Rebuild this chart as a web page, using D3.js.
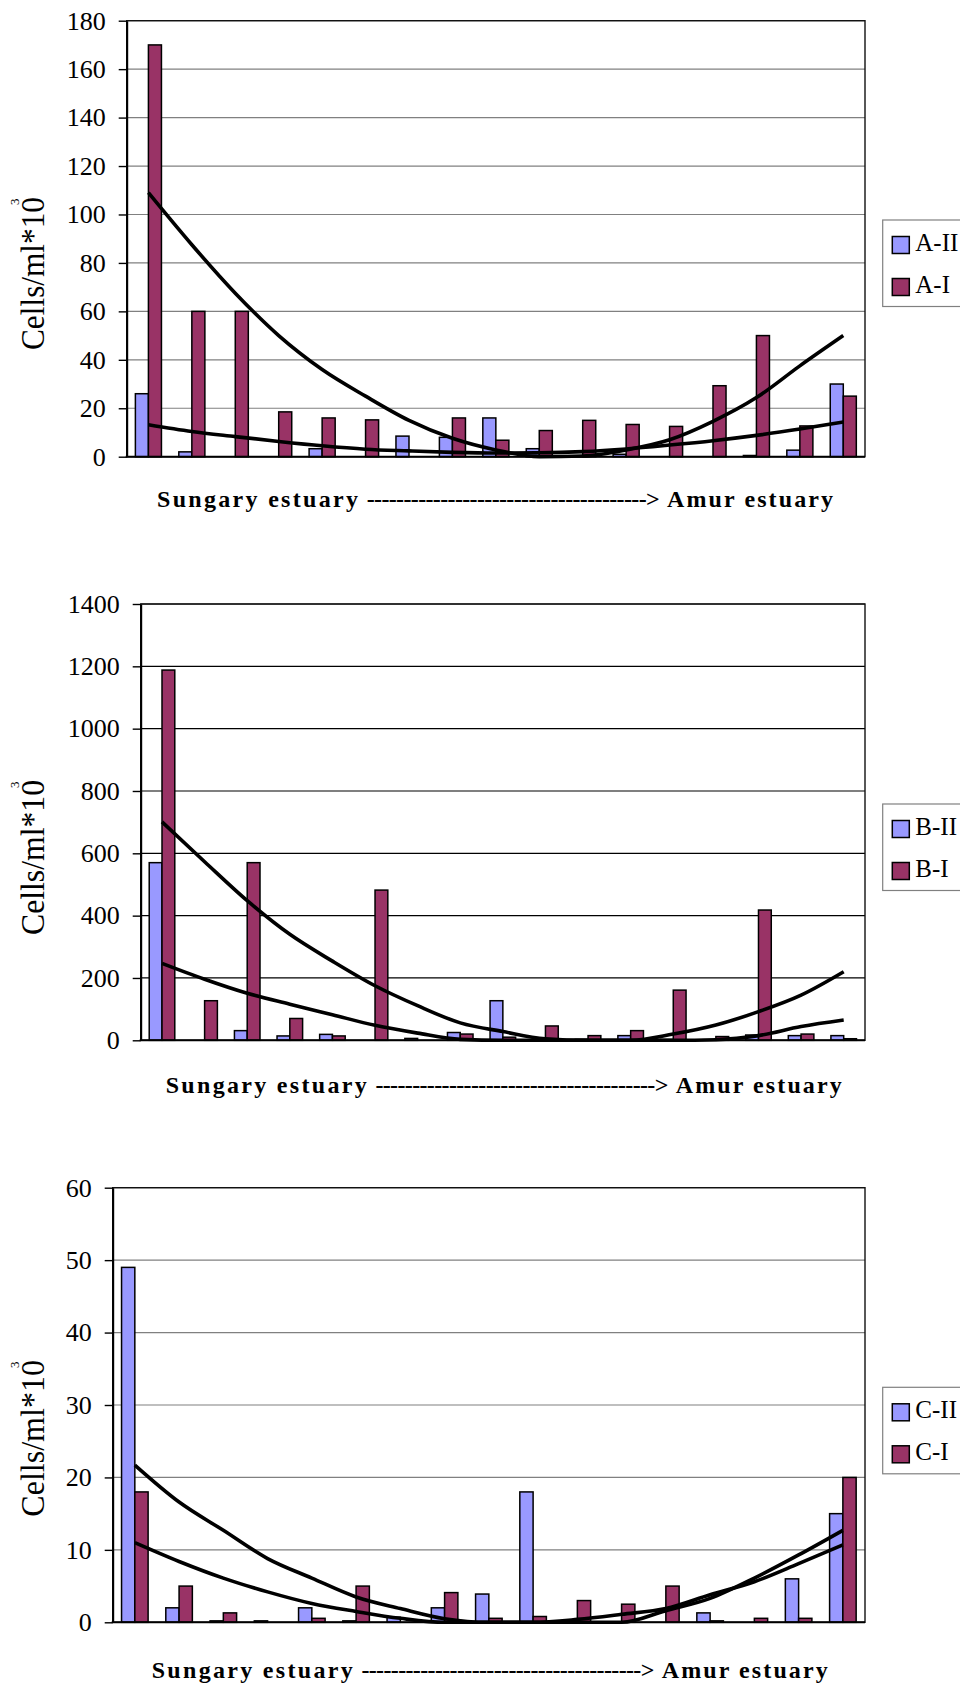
<!DOCTYPE html>
<html>
<head>
<meta charset="utf-8">
<script src="https://cdn.jsdelivr.net/npm/d3@7/dist/d3.min.js"></script>
<style>
    body { margin: 0; background: #fff; }
</style>
</head>
<body>
<svg id="chart" width="960" height="1684"></svg>
<script>
// stations along the river, Sungary estuary -> Amur estuary
var stations = ['1', '2', '3', '4', '5', '6', '7', '8', '9', '10', '11', '12', '13', '14', '15', '16', '17'];

// panel A
var aTwo = [26, 2, 0, 0, 3.3, 0, 8.5, 8, 16, 3.3, 0, 1, 0, 0, 0.5, 2.7, 30];
var aOne = [170, 60, 60, 18.5, 16, 15.2, 0, 16, 6.8, 10.8, 15, 13.3, 12.5, 29.3, 50, 12.7, 25];
var aTwoTrend = [13.2, 10.4, 8.3, 6.3, 4.5, 3.1, 2.4, 1.8, 1.5, 1.6, 2.1, 3.2, 4.8, 6.6, 8.8, 11.4, 14.3];
var aOneTrend = [109, 87.5, 67.5, 50, 36, 25, 15, 7.6, 2.8, 0, 0.3, 2.8, 7, 14.6, 24.4, 37.5, 50];
var aTicks = [0, 20, 40, 60, 80, 100, 120, 140, 160, 180];

// panel B
var bTwo = [570, 0, 31, 14, 19, 0, 6, 25, 127, 2, 3, 15, 3, 2, 17, 15, 15];
var bOne = [1188, 127, 570, 70, 14, 482, 0, 20, 10, 46, 15, 31, 161, 12, 418, 20, 5];
var bTwoTrend = [247, 196, 151, 116, 82, 48, 23, 3, 0, 0, 0, 0, 0, 2, 15, 44, 65];
var bOneTrend = [701, 573, 448, 340, 254, 175, 111, 56, 28, 5, 0, 0, 20, 49, 92, 145, 220];
var bTicks = [0, 200, 400, 600, 800, 1000, 1200, 1400];

// panel C
var cTwo = [49, 2, 0.2, 0.2, 2, 0.2, 0.7, 2, 3.9, 18, 0, 0, 0, 1.3, 0, 6, 15];
var cOne = [18, 5, 1.3, 0, 0.55, 5, 0, 4.1, 0.55, 0.8, 3, 2.5, 5, 0.2, 0.55, 0.55, 20];
var cTwoTrend = [21.7, 16.6, 12.7, 8.8, 6.1, 3.5, 1.9, 0.5, 0, 0, 0, 0, 1.6, 3.3, 6.1, 9.3, 12.7];
var cOneTrend = [11, 8.4, 6.1, 4.2, 2.6, 1.5, 0.55, 0, 0, 0, 0.4, 1.1, 1.9, 3.8, 5.6, 8.1, 10.7];
var cTicks = [0, 10, 20, 30, 40, 50, 60];

var seriesKeys = ['II', 'I'];
var seriesColors = { II: '#9999ff', I: '#993366' };
var serif = 'Liberation Serif';

var panels = [
    { name: 'A', two: aTwo, one: aOne, twoTrend: aTwoTrend, oneTrend: aOneTrend, ticks: aTicks,
      left: 126.7, right: 865, top: 20.7, bottom: 456.7, grid: '#808080',
      legendTop: 220, titleX: 157, titleY: 507, yTitleStart: 350, yTitleEnd: 197 },
    { name: 'B', two: bTwo, one: bOne, twoTrend: bTwoTrend, oneTrend: bOneTrend, ticks: bTicks,
      left: 140.7, right: 865, top: 604, bottom: 1040.3, grid: '#000',
      legendTop: 804, titleX: 165.7, titleY: 1093, yTitleStart: 935, yTitleEnd: 780 },
    { name: 'C', two: cTwo, one: cOne, twoTrend: cTwoTrend, oneTrend: cOneTrend, ticks: cTicks,
      left: 112.7, right: 865, top: 1187.7, bottom: 1622.3, grid: '#808080',
      legendTop: 1387.3, titleX: 151.7, titleY: 1678, yTitleStart: 1516.7, yTitleEnd: 1360 }
];

var svg = d3.select('#chart');

panels.forEach(function (p) {
    drawPanel(svg.append('g').attr('class', 'panel-' + p.name), p);
});

function drawPanel(g, p) {
    var yMax = p.ticks[p.ticks.length - 1],
        y = d3.scaleLinear().domain([0, yMax]).range([p.bottom, p.top]),
        x0 = d3.scaleBand().domain(stations).range([p.left, p.right]),
        bw = x0.bandwidth(),
        x1 = d3.scaleBand().domain(seriesKeys).range([bw * 0.2, bw * 0.8]),
        rows = stations.map(function (s, i) {
            return { station: s, II: p.two[i], I: p.one[i] };
        });

    // gridlines
    g.append('g').selectAll('line')
        .data(p.ticks.filter(function (t) { return t > 0; }))
        .enter().append('line')
        .attr('x1', p.left).attr('x2', p.right)
        .attr('y1', function (d) { return y(d); })
        .attr('y2', function (d) { return y(d); })
        .attr('stroke', p.grid)
        .attr('stroke-width', 1.2);

    // bars
    g.append('g').selectAll('g')
        .data(rows)
        .enter().append('g')
        .attr('transform', function (d) { return 'translate(' + x0(d.station) + ',0)'; })
        .selectAll('rect')
        .data(function (d) {
            return seriesKeys.map(function (k) { return { key: k, value: d[k] }; });
        })
        .enter().append('rect')
        .filter(function (d) { return d.value > 0; })
        .attr('x', function (d) { return x1(d.key); })
        .attr('width', x1.bandwidth())
        .attr('y', function (d) { return y(d.value); })
        .attr('height', function (d) { return p.bottom - y(d.value); })
        .attr('fill', function (d) { return seriesColors[d.key]; })
        .attr('stroke', '#000')
        .attr('stroke-width', 1.5);

    // frame (top / right)
    g.append('rect')
        .attr('x', p.left).attr('y', p.top)
        .attr('width', p.right - p.left).attr('height', p.bottom - p.top)
        .attr('fill', 'none')
        .attr('stroke', '#111')
        .attr('stroke-width', 1.4);

    // polynomial trendlines as drawn in the source
    var trendLine = d3.line()
        .x(function (d, i) { return x0(stations[i]) + bw / 2; })
        .y(function (d) { return y(d); })
        .curve(d3.curveMonotoneX);

    [p.twoTrend, p.oneTrend].forEach(function (t) {
        g.append('path')
            .datum(t)
            .attr('d', trendLine)
            .attr('fill', 'none')
            .attr('stroke', '#000')
            .attr('stroke-width', 3.6)
            .attr('stroke-linejoin', 'round');
    });

    // y axis
    var yAxis = d3.axisLeft(y)
        .tickValues(p.ticks)
        .tickFormat(d3.format('d'))
        .tickSize(8)
        .tickSizeOuter(0)
        .tickPadding(13);

    var axisG = g.append('g')
        .attr('transform', 'translate(' + p.left + ',0)')
        .call(yAxis)
        .attr('font-family', serif)
        .attr('font-size', 26);
    axisG.select('.domain').attr('stroke', '#000').attr('stroke-width', 2);
    axisG.selectAll('.tick line').attr('stroke', '#000').attr('stroke-width', 1.4);
    axisG.selectAll('.tick text')
        .attr('font-size', 26)
        .attr('font-family', serif)
        .attr('fill', '#000');

    // x axis baseline
    g.append('line')
        .attr('x1', p.left - 1).attr('x2', p.right)
        .attr('y1', p.bottom).attr('y2', p.bottom)
        .attr('stroke', '#000')
        .attr('stroke-width', 2);

    // y title
    g.append('text')
        .attr('transform', 'translate(44,' + p.yTitleStart + ') rotate(-90)')
        .attr('font-family', serif)
        .attr('font-size', 33)
        .attr('textLength', p.yTitleStart - p.yTitleEnd)
        .attr('lengthAdjust', 'spacingAndGlyphs')
        .text('Cells/ml*10');
    g.append('text')
        .attr('transform', 'translate(19,' + (p.yTitleEnd + 8) + ') rotate(-90)')
        .attr('font-family', serif)
        .attr('font-size', 13)
        .text('3');

    // x title
    var titleParts = [
        { text: 'Sungary estuary', dx: 0, len: 201 },
        { text: '-------------------------------------->', dx: 209.7, len: 293 },
        { text: 'Amur estuary', dx: 510, len: 166 }
    ];
    g.append('g').selectAll('text')
        .data(titleParts)
        .enter().append('text')
        .attr('x', function (d) { return p.titleX + d.dx; })
        .attr('y', p.titleY)
        .attr('font-family', serif)
        .attr('font-size', 24)
        .attr('font-weight', 'bold')
        .attr('textLength', function (d) { return d.len; })
        .attr('lengthAdjust', 'spacing')
        .text(function (d) { return d.text; });

    // legend
    var legend = g.append('g').attr('transform', 'translate(882.7,' + p.legendTop + ')');
    legend.append('rect')
        .attr('x', 0).attr('y', 0)
        .attr('width', 100).attr('height', 86.5)
        .attr('fill', '#fff')
        .attr('stroke', '#808080')
        .attr('stroke-width', 1.2);

    var items = legend.selectAll('g.item')
        .data(seriesKeys)
        .enter().append('g')
        .attr('class', 'item')
        .attr('transform', function (d, i) { return 'translate(9.6,' + (16.5 + i * 42) + ')'; });
    items.append('rect')
        .attr('width', 17).attr('height', 17)
        .attr('fill', function (d) { return seriesColors[d]; })
        .attr('stroke', '#000')
        .attr('stroke-width', 1.5);
    items.append('text')
        .attr('x', 23)
        .attr('y', 14.5)
        .attr('font-family', serif)
        .attr('font-size', 25)
        .text(function (d) { return p.name + '-' + d; });
}
</script>
</body>
</html>
